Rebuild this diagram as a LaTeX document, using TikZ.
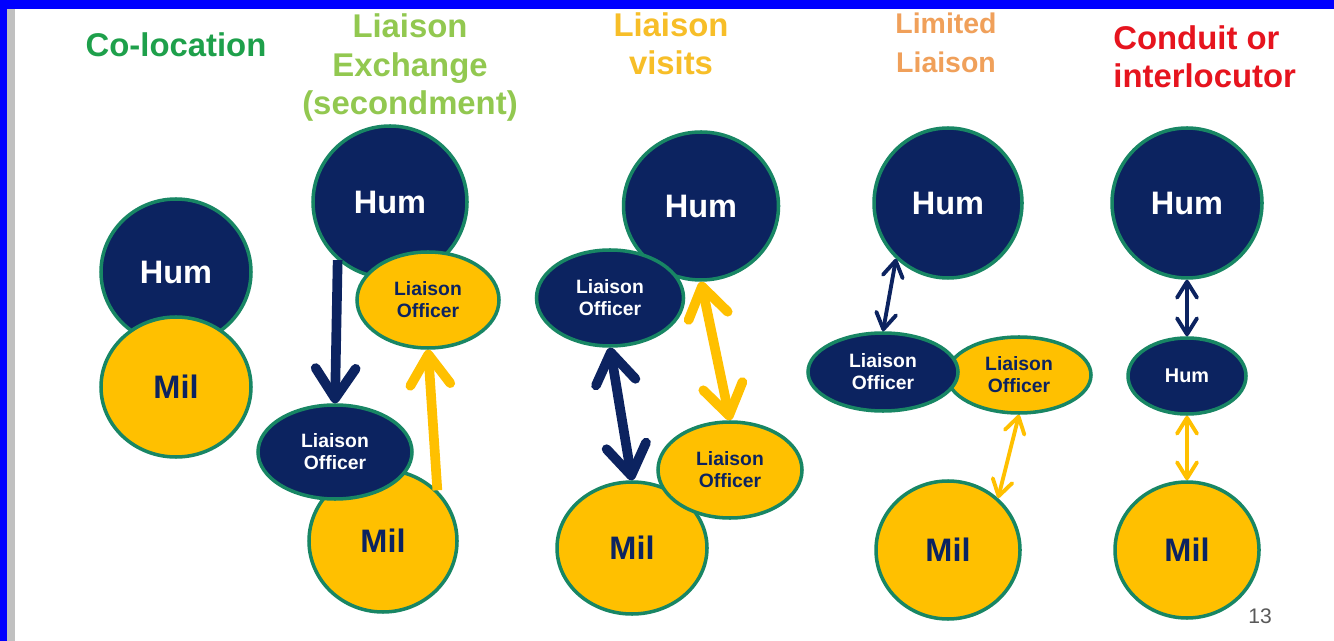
\documentclass[tikz,border=0pt]{standalone}
\usepackage{fontspec}
\setmainfont{Liberation Sans}
\usepackage{tikz}
\usetikzlibrary{shapes.geometric, arrows.meta}

\definecolor{navy}{RGB}{12,35,96}
\definecolor{gold}{RGB}{255,192,0}
\definecolor{rimgreen}{RGB}{24,134,100}
\definecolor{frameblue}{RGB}{0,0,255}
\definecolor{stripgrey}{RGB}{192,192,192}
\definecolor{colocgreen}{RGB}{30,160,75}
\definecolor{exchgreen}{RGB}{146,200,80}
\definecolor{visitgold}{RGB}{247,190,40}
\definecolor{limsalmon}{RGB}{240,160,90}
\definecolor{condred}{RGB}{230,20,30}
\definecolor{pagegrey}{RGB}{89,89,89}

\begin{document}
\begin{tikzpicture}[x=0.02cm, y=-0.02cm,
        rim/.style={ellipse, draw=rimgreen, line width=2pt, inner sep=0pt},
        dims/.style 2 args={minimum width=#1*0.02cm, minimum height=#2*0.02cm},
        hum/.style={rim, fill=navy, text=white, font=\bfseries\fontsize{18.5}{22}\selectfont},
        mil/.style={rim, fill=gold, text=navy, font=\bfseries\fontsize{18.5}{22}\selectfont},
        lohum/.style={rim, fill=navy, text=white, align=center, font=\bfseries\fontsize{11}{12.5}\selectfont},
        lomil/.style={rim, fill=gold, text=navy, align=center, font=\bfseries\fontsize{11}{12.5}\selectfont},
        title/.style={anchor=base, align=center, inner sep=0pt, font=\bfseries\fontsize{18.7}{22.1}\selectfont},
        fat/.style={line width=5.5pt, >={Straight Barb[round, length=0.6cm, width=0.8cm]}},
        slim/.style={line width=2.2pt, >={Straight Barb[round, length=0.32cm, width=0.4cm]}}]
        \useasboundingbox (0,0) rectangle (1334,641);
        \fill[white] (0,0) rectangle (1334,641);
        \fill[frameblue] (0,0) rectangle (1334,9);
        \fill[frameblue] (0,0) rectangle (7,641);
        \fill[stripgrey] (7,9) rectangle (15,641);

        \node[title, text=colocgreen] (t1) at (176,57) {Co-location};
        \node[title, text=exchgreen] (t2) at (410,115) {Liaison\\Exchange\\(secondment)};
        \node[title, text=visitgold] (t3) at (671,75) {Liaison\\visits};
        \node[title, text=limsalmon, font=\bfseries\fontsize{16.2}{22.7}\selectfont] (t4) at (946,73) {Limited\\Liaison};
        \node[title, text=condred, anchor=base west, align=left] (t5) at (1113,88) {Conduit or\\interlocutor};

        \node[hum, dims={150}{146}] (hum1) at (176,272) {Hum};
        \node[mil, dims={150}{140}] (mil1) at (176,387) {Mil};

        \node[hum, dims={154}{152}] (hum2) at (390,202) {Hum};
        \node[lomil, dims={142}{96}] (lo2y) at (428,300) {Liaison\\Officer};
        \node[mil, dims={148}{142}] (mil2) at (383,541) {Mil};
        \node[lohum, dims={154}{94}] (lo2d) at (335,452) {Liaison\\Officer};
        \draw[fat, navy, ->] (hum2.228) -- (lo2d.north);
        \draw[fat, gold, ->] (mil2.43) -- (lo2y.south);

        \node[hum, dims={155}{148}] (hum3) at (701,206) {Hum};
        \node[lohum, dims={147}{96}] (lo3d) at (610,298) {Liaison\\Officer};
        \node[mil, dims={150}{132}] (mil3) at (632,548) {Mil};
        \node[lomil, dims={144}{96}] (lo3y) at (730,470) {Liaison\\Officer};
        \draw[fat, navy, <->] (lo3d.south) -- (mil3.north);
        \draw[fat, gold, <->] (hum3.south) -- (lo3y.north);

        \node[hum, dims={148}{150}] (hum4) at (948,203) {Hum};
        \node[lomil, dims={144}{76}] (lo4y) at (1019,375) {Liaison\\Officer};
        \node[lohum, dims={150}{78}] (lo4d) at (883,372) {Liaison\\Officer};
        \node[mil, dims={144}{138}] (mil4) at (948,550) {Mil};
        \draw[slim, navy, <->] (hum4.227) -- (lo4d.north);
        \draw[slim, gold, <->] (lo4y.south) -- (mil4.46);

        \node[hum, dims={150}{150}] (hum5) at (1187,203) {Hum};
        \node[hum, dims={118}{76}, font=\bfseries\fontsize{11.3}{13}\selectfont] (hum5s) at (1187,376) {Hum};
        \node[mil, dims={144}{136}] (mil5) at (1187,550) {Mil};
        \draw[slim, navy, <->] (hum5.south) -- (hum5s.north);
        \draw[slim, gold, <->] (hum5s.south) -- (mil5.north);

        \node[anchor=base, text=pagegrey, font=\fontsize{12}{14}\selectfont] (pg) at (1260,623) {13};
\end{tikzpicture}
\end{document}
